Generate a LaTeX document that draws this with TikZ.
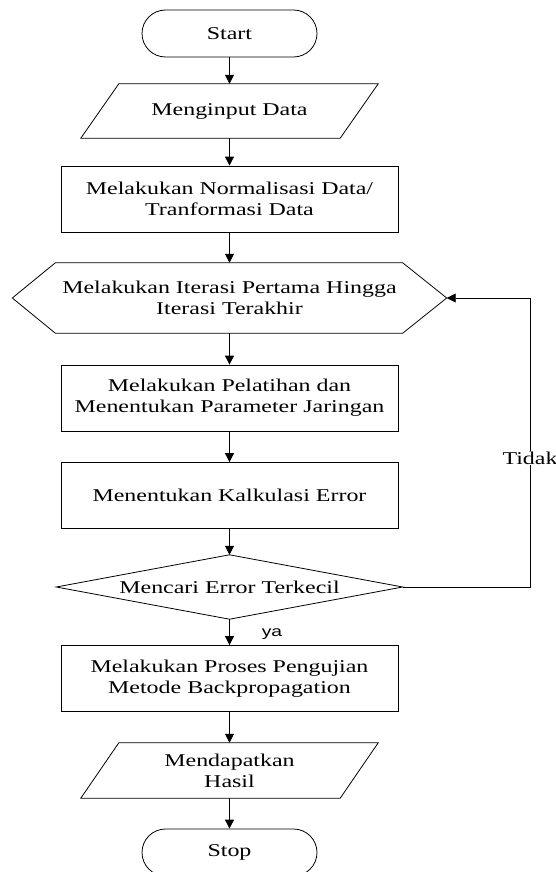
\documentclass[tikz,border=0pt]{standalone}
\usepackage{fontspec}
\setmainfont{Liberation Serif}[FakeStretch=1.33]
\newfontfamily\yafont{Liberation Sans}[FakeStretch=1.33]
\usetikzlibrary{shapes.misc,arrows.meta}
\begin{document}
\begin{tikzpicture}[x=1pt,y=-1pt,
  every node/.style={font=\fontsize{18}{20.7}\selectfont, align=center, inner sep=0pt},
  line/.style={line width=0.8pt},
  arr/.style={line width=0.8pt, -{Triangle[length=9pt,width=9pt]}},
  term/.style={draw, line width=0.8pt, rounded rectangle, minimum width=175pt, minimum height=47pt},
  procbox/.style={draw, line width=0.8pt, rectangle, minimum width=337pt, minimum height=66pt},
  holder/.style={rectangle, draw=none}
]
\useasboundingbox (0,0) rectangle (556,872);

% nodes
\node[term] (start) at (229.5,33.5) {Start};
\node[holder, minimum width=297pt, minimum height=54pt] (in) at (229.5,111) {Menginput Data};
\node[procbox] (norm) at (229.5,199) {Melakukan Normalisasi Data/\\Tranformasi Data};
\node[holder, minimum width=434pt, minimum height=70pt] (hex) at (229.5,298) {Melakukan Iterasi Pertama Hingga\\Iterasi Terakhir};
\node[procbox] (train) at (229.5,398) {Melakukan Pelatihan dan\\Menentukan Parameter Jaringan};
\node[procbox] (calc) at (229.5,495.5) {Menentukan Kalkulasi Error};
\node[holder, minimum width=346pt, minimum height=64pt] (dia) at (229.5,587) {Mencari Error Terkecil};
\node[procbox] (test) at (229.5,678.5) {Melakukan Proses Pengujian\\Metode Backpropagation};
\node[holder, minimum width=297pt, minimum height=55pt] (out) at (229.5,770.5) {Mendapatkan\\Hasil};
\node[term] (stop) at (229.5,852.5) {Stop};

% outlines of drawn shapes
\draw[line] (in.south west) -- ([xshift=38pt]in.north west) -- (in.north east) -- ([xshift=-38pt]in.south east) -- cycle;
\draw[line] (out.south west) -- ([xshift=38pt]out.north west) -- (out.north east) -- ([xshift=-38pt]out.south east) -- cycle;
\draw[line] (hex.west) -- ([xshift=43pt]hex.north west) -- ([xshift=-44pt]hex.north east) -- (hex.east)
  -- ([xshift=-44pt]hex.south east) -- ([xshift=43pt]hex.south west) -- cycle;
\draw[line] (dia.west) -- (dia.north) -- (dia.east) -- (dia.south) -- cycle;

% connectors
\draw[arr] (start.south) -- (in.north);
\draw[arr] (in.south) -- (norm.north);
\draw[arr] (norm.south) -- (hex.north);
\draw[arr] (hex.south) -- (train.north);
\draw[arr] (train.south) -- (calc.north);
\draw[arr] (calc.south) -- (dia.north);
\draw[arr] (dia.south) -- (test.north);
\draw[arr] (test.south) -- (out.north);
\draw[arr] (out.south) -- (stop.north);

\coordinate (fb) at (530,587);
\draw[arr] (dia.east) -- (fb) |- (hex.east);

% labels
\node[fill=white, inner sep=1pt] (tidak) at (530,458) {Tidak};
\node[font=\yafont\fontsize{14.5}{16}\selectfont] (ya) at (272,634) {ya};
\end{tikzpicture}
\end{document}
